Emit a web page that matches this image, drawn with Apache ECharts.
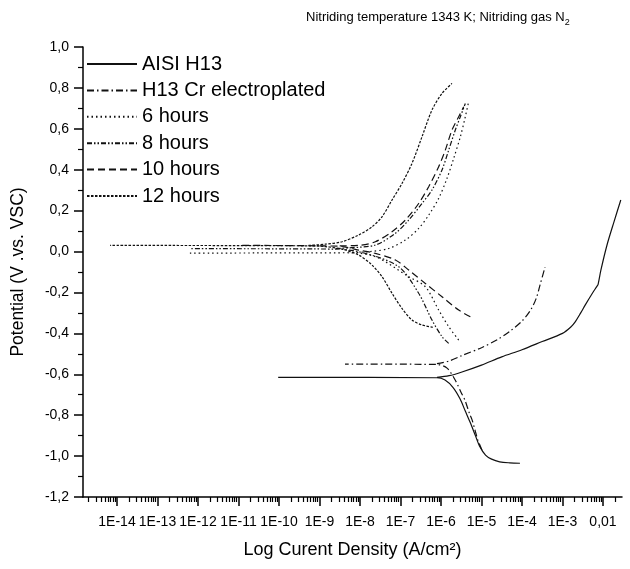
<!DOCTYPE html>
<html><head><meta charset="utf-8">
<script src="https://cdn.jsdelivr.net/npm/echarts@6/dist/echarts.min.js"></script>
<style>html,body{margin:0;padding:0;background:#fff}#c{width:630px;height:569px}</style>
</head><body><div id="c"></div>
<script>
// ---- axis ticks (x values are log10 of current density, A/cm2) ----
const xMajorTicks = [-14,-13,-12,-11,-10,-9,-8,-7,-6,-5,-4,-3,-2];
const xTickLabels = ['1E-14','1E-13','1E-12','1E-11','1E-10','1E-9','1E-8','1E-7','1E-6','1E-5','1E-4','1E-3','0,01'];
const seriesNames = ['AISI H13','H13 Cr electroplated','6 hours','8 hours','10 hours','12 hours'];

// ---- AISI H13 (solid) [logI, E] ----
const h13Horizontal = [[-10.02,-0.615]];
const h13Cathodic = [[-6.1,-0.617],[-5.9,-0.628],[-5.7,-0.665],[-5.53,-0.72],[-5.4,-0.78],[-5.28,-0.835],[-5.15,-0.9],[-5.05,-0.95],[-4.9,-0.995],[-4.75,-1.015],[-4.55,-1.028],[-4.3,-1.033],[-4.05,-1.035]];
const h13Anodic = [[-6.1,-0.615],[-5.8,-0.607],[-5.5,-0.59],[-5.0,-0.555],[-4.5,-0.515],[-4.0,-0.48],[-3.5,-0.44],[-3.0,-0.4],[-2.8,-0.37],[-2.69,-0.345],[-2.55,-0.3],[-2.44,-0.262],[-2.25,-0.2],[-2.15,-0.17],[-2.12,-0.16],[-2.05,-0.09],[-1.9,0.032],[-1.73,0.144],[-1.56,0.252]];

// ---- H13 Cr electroplated (dash-dot) ----
const crHorizontal = [[-8.37,-0.55]];
const crCathodic = [[-6.1,-0.552],[-5.85,-0.57],[-5.65,-0.628],[-5.5,-0.69],[-5.41,-0.726],[-5.3,-0.79],[-5.23,-0.824],[-5.15,-0.88],[-5.09,-0.922],[-5.02,-0.955],[-4.99,-0.97]];
const crAnodic = [[-6.1,-0.548],[-5.8,-0.535],[-5.5,-0.51],[-5.0,-0.47],[-4.6,-0.43],[-4.3,-0.39],[-4.0,-0.34],[-3.8,-0.29],[-3.65,-0.23],[-3.55,-0.16],[-3.43,-0.076]];

// ---- 6 hours (dotted) ----
const h6Horizontal = [[-12.2,-0.008]];
const h6Cathodic = [[-8.3,-0.006],[-7.621,-0.025],[-6.798,-0.123],[-6.386,-0.172],[-6.057,-0.286],[-5.81,-0.367],[-5.563,-0.433]];
const h6Anodic = [[-8.3,-0.006],[-7.786,-0.001],[-7.292,0.015],[-6.88,0.056],[-6.551,0.113],[-6.304,0.178],[-6.057,0.26],[-5.851,0.358],[-5.687,0.455],[-5.522,0.561],[-5.399,0.659],[-5.316,0.733]];

// ---- 8 hours (dash-dot-dot) ----
const h8Horizontal = [[-12.2,0.014]];
const h8Cathodic = [[-8.6,0.012],[-7.868,-0.009],[-7.045,-0.074],[-6.551,-0.204],[-6.222,-0.335],[-5.975,-0.416],[-5.81,-0.449]];
const h8Anodic = [[-8.6,0.014],[-8.279,0.018],[-7.621,0.032],[-7.127,0.089],[-6.798,0.154],[-6.469,0.235],[-6.222,0.301],[-5.975,0.399],[-5.81,0.496],[-5.646,0.594],[-5.522,0.659],[-5.399,0.724]];

// ---- 10 hours (dashed) ----
const h10Horizontal = [[-10.96,0.03]];
const h10Cathodic = [[-8.5,0.026],[-8.033,0.007],[-7.621,-0.009],[-7.127,-0.041],[-6.798,-0.09],[-6.386,-0.156],[-5.975,-0.221],[-5.563,-0.286],[-5.275,-0.319]];
const h10Anodic = [[-8.5,0.028],[-8.033,0.03],[-7.621,0.048],[-7.209,0.097],[-6.88,0.154],[-6.551,0.235],[-6.304,0.317],[-6.057,0.415],[-5.893,0.496],[-5.728,0.594],[-5.563,0.659],[-5.44,0.708]];

// ---- 12 hours (fine dashes) ----
const h12Horizontal = [[-14.17,0.03]];
const h12Cathodic = [[-9.27,0.028],[-8.856,0.024],[-8.444,0.012],[-8.033,-0.017],[-7.703,-0.066],[-7.456,-0.123],[-7.209,-0.204],[-6.963,-0.278],[-6.716,-0.335],[-6.469,-0.359],[-6.2,-0.37]];
const h12Anodic = [[-9.27,0.03],[-8.856,0.036],[-8.444,0.048],[-8.033,0.081],[-7.703,0.121],[-7.456,0.17],[-7.209,0.252],[-6.963,0.333],[-6.716,0.431],[-6.469,0.561],[-6.222,0.692],[-5.975,0.773],[-5.728,0.822]];

function path(cath, horiz, anod) {
  return [...cath.slice().reverse(), ...horiz, ['-','-'], ...anod];
}
const curves = [
  {name: seriesNames[0], data: path(h13Cathodic, h13Horizontal, h13Anodic), dash: 'solid'},
  {name: seriesNames[1], data: path(crCathodic, crHorizontal, crAnodic), dash: [7,3,1.5,3]},
  {name: seriesNames[2], data: path(h6Cathodic, h6Horizontal, h6Anodic), dash: [1.5,3]},
  {name: seriesNames[3], data: path(h8Cathodic, h8Horizontal, h8Anodic), dash: [5,2,1.5,2,1.5,2]},
  {name: seriesNames[4], data: path(h10Cathodic, h10Horizontal, h10Anodic), dash: [7,4]},
  {name: seriesNames[5], data: path(h12Cathodic, h12Horizontal, h12Anodic), dash: [2.5,1.5]}
];

const X_MIN = -14.84, X_MAX = -1.53;
const xMinorTicks = [];
for (let d = -15; d <= -2; d++) for (let m = 2; m <= 9; m++) {
  const v = d + Math.log10(m);
  if (v > X_MIN && v < X_MAX) xMinorTicks.push(v);
}

const FONT = 'Liberation Sans, Arial, sans-serif';
const chart = echarts.init(document.getElementById('c'), null, {renderer: 'canvas'});
chart.setOption({
  animation: false,
  backgroundColor: '#fff',
  textStyle: {fontFamily: FONT, color: '#000'},
  title: {
    text: 'Nitriding temperature 1343 K; Nitriding gas N{s|2}',
    left: 306, top: 7, padding: 0,
    textStyle: {fontFamily: FONT, fontSize: 13, fontWeight: 'normal', color: '#000',
      rich: {s: {fontFamily: FONT, fontSize: 9, color: '#000', padding: [11,0,0,0]}}}
  },
  legend: {
    orient: 'vertical', left: 86, top: 54, padding: 0,
    itemWidth: 50, itemHeight: 4, itemGap: 6.4,
    itemStyle: {opacity: 0},
    textStyle: {fontFamily: FONT, fontSize: 20, color: '#000', lineHeight: 20},
    data: seriesNames
  },
  grid: {left: 83, right: 8, top: 47, bottom: 72, containLabel: false},
  xAxis: [{
    type: 'value', min: X_MIN, max: X_MAX,
    name: 'Log Curent Density (A/cm²)', nameLocation: 'middle', nameGap: 44,
    nameTextStyle: {fontFamily: FONT, fontSize: 18, color: '#000'},
    axisLine: {show: true, onZero: false, lineStyle: {color: '#000', width: 1.5}},
    axisTick: {show: true, inside: false, length: 9, customValues: xMajorTicks, lineStyle: {color: '#000', width: 1.5}},
    axisLabel: {show: true, margin: 18, fontSize: 14, fontFamily: FONT, color: '#000',
      customValues: xMajorTicks,
      formatter: v => xTickLabels[xMajorTicks.indexOf(Math.round(v))] || ''},
    splitLine: {show: false}
  }, {
    type: 'value', min: X_MIN, max: X_MAX, position: 'bottom',
    axisLine: {show: false, onZero: false},
    axisTick: {show: true, inside: false, length: 5, customValues: xMinorTicks, lineStyle: {color: '#000', width: 1.2}},
    axisLabel: {show: false},
    splitLine: {show: false}
  }],
  yAxis: {
    type: 'value', min: -1.2, max: 1.0, interval: 0.2,
    name: 'Potential (V .vs. VSC)', nameLocation: 'middle', nameGap: 56, nameRotate: 90,
    nameTextStyle: {fontFamily: FONT, fontSize: 17.5, color: '#000'},
    axisLine: {show: true, onZero: false, lineStyle: {color: '#000', width: 1.5}},
    axisTick: {show: true, inside: false, length: 9, lineStyle: {color: '#000', width: 1.5}},
    minorTick: {show: true, splitNumber: 2, length: 5, lineStyle: {color: '#000', width: 1.2}},
    axisLabel: {margin: 14, fontSize: 14, fontFamily: FONT, color: '#000',
      formatter: v => (Math.abs(v) < 1e-9 ? 0 : v).toFixed(1).replace('.', ',')},
    splitLine: {show: false}
  },
  series: curves.map(c => ({
    name: c.name, type: 'line', xAxisIndex: 0, data: c.data,
    showSymbol: false, symbol: 'none', connectNulls: false, smooth: 0.3,
    lineStyle: {color: '#111', width: 1.2, type: c.dash},
    itemStyle: {color: '#111'}
  }))
});
</script></body></html>
